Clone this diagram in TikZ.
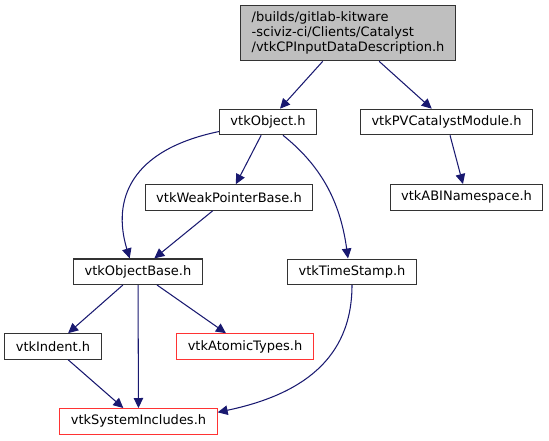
\documentclass[tikz,border=0pt]{standalone}
\usepackage{fontspec}
\setmainfont{DejaVu Sans}
\usepackage{xcolor}
\usepackage{tikz}
\usetikzlibrary{positioning, arrows.meta}
\definecolor{edgeblue}{HTML}{191970}
\definecolor{rootgray}{HTML}{BFBFBF}
\tikzset{includegraph/.style={
    x=1pt, y=-1pt,
    filebox/.style={rectangle, draw=black!80, line width=1.1pt, fill=white, minimum height=25.5pt, inner xsep=11pt, inner ysep=0pt, font=\fontsize{13}{15}\selectfont},
    rootbox/.style={filebox, fill=rootgray, align=left, minimum height=55pt},
    truncbox/.style={filebox, draw=red!80},
    incl/.style={line width=1.05pt, edgeblue, -{Triangle[length=10pt, width=9.5pt]}},
}}

\begin{document}
\begin{tikzpicture}[includegraph]
    \useasboundingbox (0,0) rectangle (549,440);
    % files
    \node[rootbox] (root) at (348,33.3) {/builds/gitlab-kitware\\-sciviz-ci/Clients/Catalyst\\/vtkCPInputDataDescription.h};
    \node[filebox] (obj) at (268,122) {vtkObject.h};
    \node[filebox] (pvcat) at (446.5,122) {vtkPVCatalystModule.h};
    \node[filebox] (weakptr) at (229,197.5) {vtkWeakPointerBase.h};
    \node[filebox] (abins) at (466.5,197.3) {vtkABINamespace.h};
    \node[filebox] (objbase) at (138,271.7) {vtkObjectBase.h};
    \node[filebox] (tstamp) at (352,271.8) {vtkTimeStamp.h};
    \node[filebox] (indent) at (53,346.5) {vtkIndent.h};
    \node[truncbox] (atomic) at (245,346.5) {vtkAtomicTypes.h};
    \node[truncbox] (sysinc) at (138.5,421.3) {vtkSystemIncludes.h};
    % includes
    \draw[incl] (root) -- (obj);
    \draw[incl] (root) -- (pvcat);
    \draw[incl] (obj) -- (weakptr);
    \draw[incl] (obj.191) .. controls (130,150) and (112,200) .. (objbase.122);
    \draw[incl] ([xshift=15pt]obj.south) .. controls (320,165) and (340,200) .. ([xshift=-4pt]tstamp.north);
    \draw[incl] (pvcat) -- (abins);
    \draw[incl] (weakptr) -- (objbase);
    \draw[incl] (objbase) -- (indent);
    \draw[incl] (objbase) -- (sysinc);
    \draw[incl] (objbase) -- (atomic);
    \draw[incl] (indent) -- (sysinc);
    \draw[incl] (tstamp.south) .. controls (352,360) and (300,395) .. ([yshift=9pt]sysinc.east);
\end{tikzpicture}
\end{document}
